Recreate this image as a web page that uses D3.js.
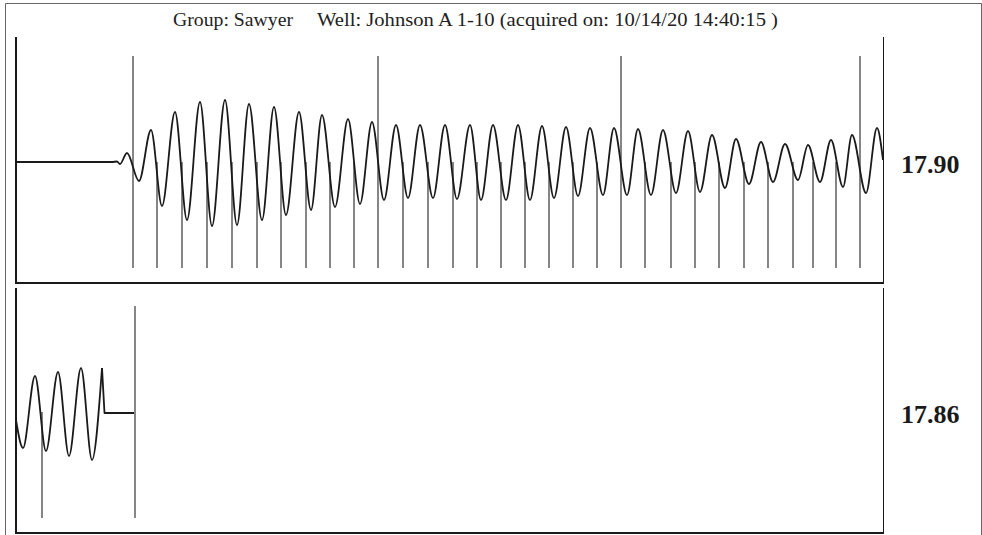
<!DOCTYPE html>
<html>
<head>
<meta charset="utf-8">
<script src="https://cdn.jsdelivr.net/npm/d3@7"></script>
<style>
  body { margin: 0; background: #fff; }
  svg { display: block; }
</style>
</head>
<body>
<svg id="dyno" width="982" height="535"></svg>
<script>
// top trace: turning points (time in s, value in chart units)
var topTime = [0, 0.96, 1.01, 1.04, 1.11, 1.23, 1.35, 1.46, 1.59, 1.71, 1.84, 1.96, 2.09, 2.21, 2.33, 2.46,
  2.58, 2.70, 2.83, 2.95, 3.06, 3.19, 3.32, 3.44, 3.56, 3.68, 3.80, 3.92, 4.04, 4.17, 4.29, 4.41,
  4.54, 4.65, 4.77, 4.90, 5.02, 5.14, 5.26, 5.38, 5.50, 5.62, 5.74, 5.87, 5.98, 6.11, 6.22, 6.35,
  6.47, 6.60, 6.72, 6.84, 6.96, 7.09, 7.20, 7.33, 7.45, 7.57, 7.69, 7.82, 7.92, 8.04, 8.15, 8.27,
  8.36, 8.50, 8.61, 8.67]
var topValue = [0, 0, 0.05, -0.2, 0.9, -1.9, 3.2, -4.4, 5.0, -5.8, 6.0, -6.4, 6.2, -6.3, 5.8, -5.8,
  5.5, -5.3, 5.0, -4.8, 4.7, -4.5, 4.3, -4.2, 4.0, -3.8, 3.7, -3.6, 3.7, -3.6, 3.7, -3.7,
  3.7, -3.8, 3.7, -3.8, 3.7, -3.8, 3.6, -3.6, 3.5, -3.4, 3.4, -3.3, 3.4, -3.3, 3.3, -3.3,
  3.2, -3.1, 3.1, -3.0, 2.7, -2.6, 2.3, -2.2, 2.0, -2.0, 1.8, -1.8, 1.7, -2.0, 2.2, -2.5,
  2.7, -3.1, 3.4, 0.2]
var topTallMarks = [1.17, 3.62, 6.05, 8.44]
var topShortMarks = [1.41, 1.66, 1.91, 2.16, 2.41, 2.65, 2.90, 3.14, 3.38, 3.87, 4.12, 4.37, 4.61,
  4.85, 5.09, 5.33, 5.57, 5.81, 6.29, 6.55, 6.79, 7.03, 7.28, 7.52, 7.77, 7.97, 8.20]

// bottom trace
var bottomTime = [0, 0.07, 0.19, 0.30, 0.42, 0.53, 0.65, 0.76, 0.86]
var bottomValue = [-0.8, -3.6, 3.6, -3.9, 4.0, -4.4, 4.4, -4.8, 4.4]
var bottomTailTime = [0.86, 0.885, 1.18]
var bottomTailValue = [4.4, -0.1, -0.1]
var bottomTallMarks = [1.19]
var bottomShortMarks = [0.26]

var panelLabels = ["17.90", "17.86"]
var titleGroup = "Group: Sawyer"
var titleWell = "Well: Johnson A 1-10 (acquired on: 10/14/20 14:40:15 )"

var markLow = -10.6, markHigh = 10.6, markMid = 0

var svg = d3.select("#dyno")

var xScale = d3.scaleLinear().domain([0, 8.67]).range([16, 883])
var yTop = d3.scaleLinear().domain([-12.5, 12.5]).range([287, 37])
var yBottom = d3.scaleLinear().domain([-12.5, 12.5]).range([537, 287])

var ink = "#1a1a1a"
var serif = "'Liberation Serif', 'Times New Roman', serif"

// outer page frame
svg.append("path")
    .attr("d", "M5.5,540 V3.5 H981.5 V540")
    .attr("fill", "none")
    .attr("stroke", "#666")
    .attr("stroke-width", 1)

var drawFrame = function(top, bottom) {
    var g = svg.append("g")
    g.append("line").attr("x1", 16).attr("x2", 16).attr("y1", top).attr("y2", bottom + 1)
        .attr("stroke", ink).attr("stroke-width", 2)
    g.append("line").attr("x1", 15).attr("x2", 884).attr("y1", bottom).attr("y2", bottom)
        .attr("stroke", ink).attr("stroke-width", 2.2)
    g.append("line").attr("x1", 883.5).attr("x2", 883.5).attr("y1", top).attr("y2", bottom)
        .attr("stroke", ink).attr("stroke-width", 1)
}

var drawMarks = function(yScale, tall, short) {
    var g = svg.append("g").attr("stroke", "#222").attr("stroke-width", 1.1)
    g.selectAll(".tall").data(tall).enter().append("line")
        .attr("x1", d => xScale(d)).attr("x2", d => xScale(d))
        .attr("y1", yScale(markLow)).attr("y2", yScale(markHigh))
    g.selectAll(".short").data(short).enter().append("line")
        .attr("x1", d => xScale(d)).attr("x2", d => xScale(d))
        .attr("y1", yScale(markLow)).attr("y2", yScale(markMid))
}

var drawTrace = function(yScale, times, values, curve) {
    var pts = times.map((t, i) => [t, values[i]])
    var line = d3.line()
        .x(d => xScale(d[0]))
        .y(d => yScale(d[1]))
        .curve(curve)
    svg.append("path")
        .attr("d", line(pts))
        .attr("fill", "none")
        .attr("stroke", ink)
        .attr("stroke-width", 1.8)
        .attr("stroke-linejoin", "round")
}

drawFrame(37, 283)
drawFrame(288, 533)

drawMarks(yTop, topTallMarks, topShortMarks)
drawMarks(yBottom, bottomTallMarks, bottomShortMarks)

drawTrace(yTop, topTime, topValue, d3.curveMonotoneX)
drawTrace(yBottom, bottomTime, bottomValue, d3.curveMonotoneX)
drawTrace(yBottom, bottomTailTime, bottomTailValue, d3.curveLinear)

// title
svg.append("text")
    .attr("x", 173).attr("y", 26)
    .attr("font-family", serif)
    .attr("font-size", 18.5)
    .attr("fill", "#222")
    .attr("textLength", 120)
    .attr("lengthAdjust", "spacingAndGlyphs")
    .text(titleGroup)
svg.append("text")
    .attr("x", 317).attr("y", 26)
    .attr("font-family", serif)
    .attr("font-size", 18.5)
    .attr("fill", "#222")
    .attr("textLength", 461)
    .attr("lengthAdjust", "spacingAndGlyphs")
    .text(titleWell)

// panel readings
svg.selectAll(".reading")
    .data(panelLabels)
    .enter()
    .append("text")
    .attr("x", 901)
    .attr("y", (d, i) => i == 0 ? yTop(markMid) + 11 : yBottom(markMid) + 11)
    .attr("font-family", serif)
    .attr("font-weight", "bold")
    .attr("font-size", 26)
    .attr("fill", "#1a1a1a")
    .text(d => d)
</script>
</body>
</html>
